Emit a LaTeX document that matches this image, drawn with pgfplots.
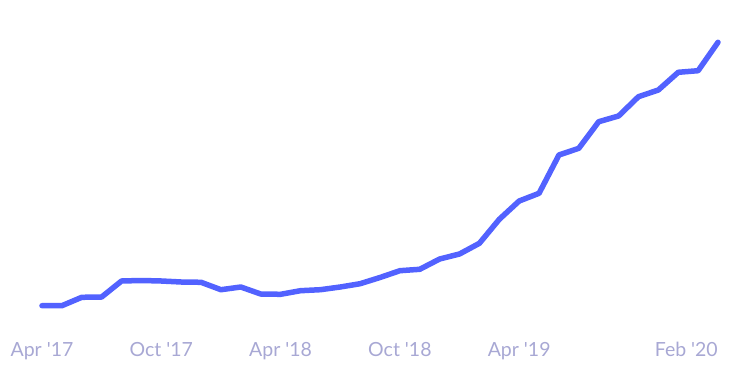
\documentclass[border=0pt]{standalone}
\usepackage{fontspec}
\setmainfont{Lato}
\usepackage{pgfplots}
\pgfplotsset{compat=1.18}
\definecolor{linec}{RGB}{82,98,255}
\definecolor{labc}{RGB}{168,168,212}
\begin{document}
\begin{tikzpicture}[x=1pt,y=1pt]
\path[use as bounding box] (0,0) rectangle (752,380);
\begin{axis}[
  at={(42pt,60pt)}, anchor=origin,
  scale only axis, width=676pt, height=300pt,
  xmin=0, xmax=34, ymin=0, ymax=300,
  axis line style={draw=none}, clip=false,
  ytick=\empty,
  xtick={0,6,12,18,24},
  xticklabels={Apr \textquotesingle17,Oct \textquotesingle17,Apr \textquotesingle18,Oct \textquotesingle18,Apr \textquotesingle19},
  extra x ticks={34},
  extra x tick labels={Feb \textquotesingle20},
  extra x tick style={xticklabel style={anchor=north east, xshift=0pt}},
  xticklabel style={font=\fontsize{19.5}{19.5}\selectfont, text=labc, inner sep=0pt, yshift=-22pt},
  major tick length=0pt,
  tick style={draw=none},
]
\addplot[linec, line width=5.5pt, line cap=round, line join=round] coordinates {
(0,14.3)(1,14.3)(2,22.7)(3,23)(4,39)(5,39.5)(6,39)(7,38)(8,37.7)(9,30.3)
(10,33)(11,26)(12,25.7)(13,29.3)(14,30.3)(15,33)(16,36.3)(17,42.5)(18,49.3)(19,50.7)
(20,61)(21,66)(22,76.7)(23,100.7)(24,119)(25,126.7)(26,165)(27,171.7)(28,198.3)(29,204)
(30,223.3)(31,230)(32,247.7)(33,249.3)(34,277.7)
};
\end{axis}
\end{tikzpicture}
\end{document}
